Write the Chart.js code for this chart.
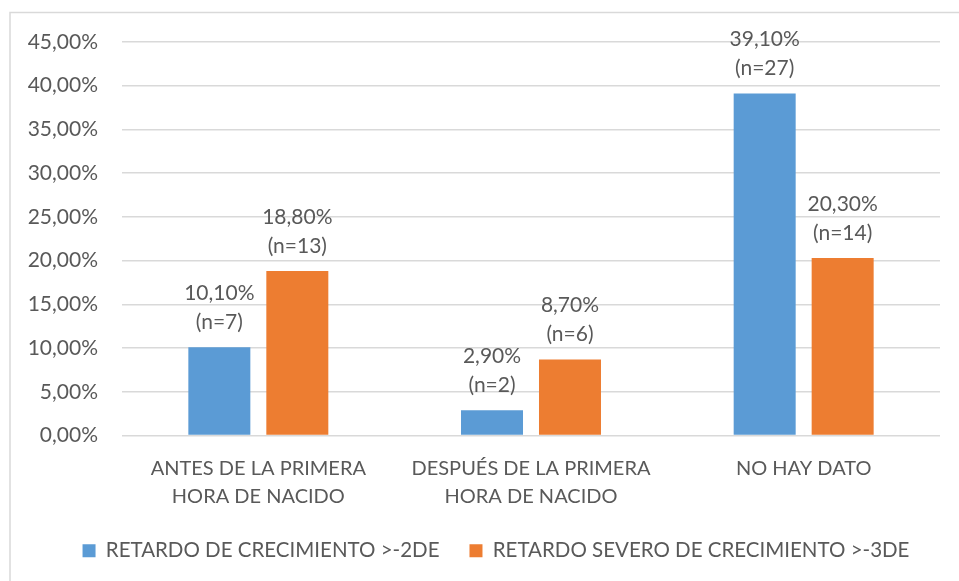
<!DOCTYPE html>
<html>
<head>
<meta charset="utf-8">
<script src="https://cdn.jsdelivr.net/npm/chart.js@4.4.0/dist/chart.umd.min.js"></script>
<style>
  html, body { margin: 0; padding: 0; background: #fff; }
  #wrap { width: 959px; height: 581px; }
</style>
</head>
<body>
<div id="wrap"><canvas id="myChart" width="959" height="581"></canvas></div>
<script>
// Chart data
const categories = [
  ['ANTES DE LA PRIMERA', 'HORA DE NACIDO'],
  ['DESPUÉS DE LA PRIMERA', 'HORA DE NACIDO'],
  'NO HAY DATO'
];
const seriesNames = ['RETARDO DE CRECIMIENTO >-2DE', 'RETARDO SEVERO DE CRECIMIENTO >-3DE'];
const retardo = [10.1, 2.9, 39.1];
const retardoN = [7, 2, 27];
const severo = [18.8, 8.7, 20.3];
const severoN = [13, 6, 14];
const yTicks = [0, 5, 10, 15, 20, 25, 30, 35, 40, 45];

const textColor = '#595959';
const gridColor = '#D9D9D9';
const fontFamily = 'Lato, "Open Sans", sans-serif';

const fmtPct = (v) => v.toFixed(2).replace('.', ',') + '%';

// Border around the chart
const frame = {
  id: 'frame',
  beforeDraw(chart) {
    const ctx = chart.ctx;
    ctx.save();
    ctx.fillStyle = '#fff';
    ctx.fillRect(0, 0, chart.width, chart.height);
    ctx.strokeStyle = gridColor;
    ctx.lineWidth = 1.5;
    ctx.strokeRect(10, 12.5, 2000, 2000);
    ctx.restore();
  }
};

// Legend sits a bit right of centre in the original
const legendShift = {
  id: 'legendShift',
  afterLayout(chart) {
    chart.legend.left += 21;
    chart.legend.right += 21;
  }
};

// Two-line value labels above each bar
const counts = [retardoN, severoN];
const barLabels = {
  id: 'barLabels',
  afterDatasetsDraw(chart) {
    const ctx = chart.ctx;
    ctx.save();
    ctx.fillStyle = textColor;
    ctx.font = '21px ' + fontFamily;
    ctx.textAlign = 'center';
    ctx.textBaseline = 'middle';
    chart.data.datasets.forEach((ds, i) => {
      chart.getDatasetMeta(i).data.forEach((bar, j) => {
        ctx.fillText('(n=' + counts[i][j] + ')', bar.x, bar.y - 25);
        ctx.fillText(fmtPct(ds.data[j]), bar.x, bar.y - 54);
      });
    });
    ctx.restore();
  }
};

const chartConfig = {
  type: 'bar',
  data: {
    labels: categories,
    datasets: [
      { label: seriesNames[0], data: retardo, backgroundColor: '#5B9BD5' },
      { label: seriesNames[1], data: severo, backgroundColor: '#ED7D31' }
    ]
  },
  options: {
    responsive: false,
    animation: false,
    categoryPercentage: 0.572,
    barPercentage: 0.795,
    layout: { padding: { left: 10, right: 19, top: 42, bottom: 10 } },
    plugins: {
      legend: {
        position: 'bottom',
        labels: {
          color: textColor,
          font: { family: fontFamily, size: 20.5 },
          boxWidth: 13,
          boxHeight: 13,
          padding: 30
        }
      },
      tooltip: { enabled: false }
    },
    scales: {
      x: {
        grid: { display: false },
        border: { display: false },
        ticks: {
          color: textColor,
          font: { family: fontFamily, size: 20, lineHeight: 1.4 },
          padding: 11,
          maxRotation: 0
        },
        afterFit(scale) { scale.height = 75; }
      },
      y: {
        min: 0,
        max: 45,
        afterBuildTicks(scale) { scale.ticks = yTicks.map(v => ({ value: v })); },
        grid: { color: gridColor, lineWidth: 1.5, drawTicks: false },
        border: { display: false },
        ticks: {
          color: textColor,
          font: { family: fontFamily, size: 21 },
          padding: 24,
          callback: (v) => fmtPct(v)
        },
        afterFit(scale) { scale.width = 112; }
      }
    }
  },
  plugins: [frame, legendShift, barLabels]
};

const myChart = new Chart(document.getElementById('myChart'), chartConfig);
</script>
</body>
</html>
